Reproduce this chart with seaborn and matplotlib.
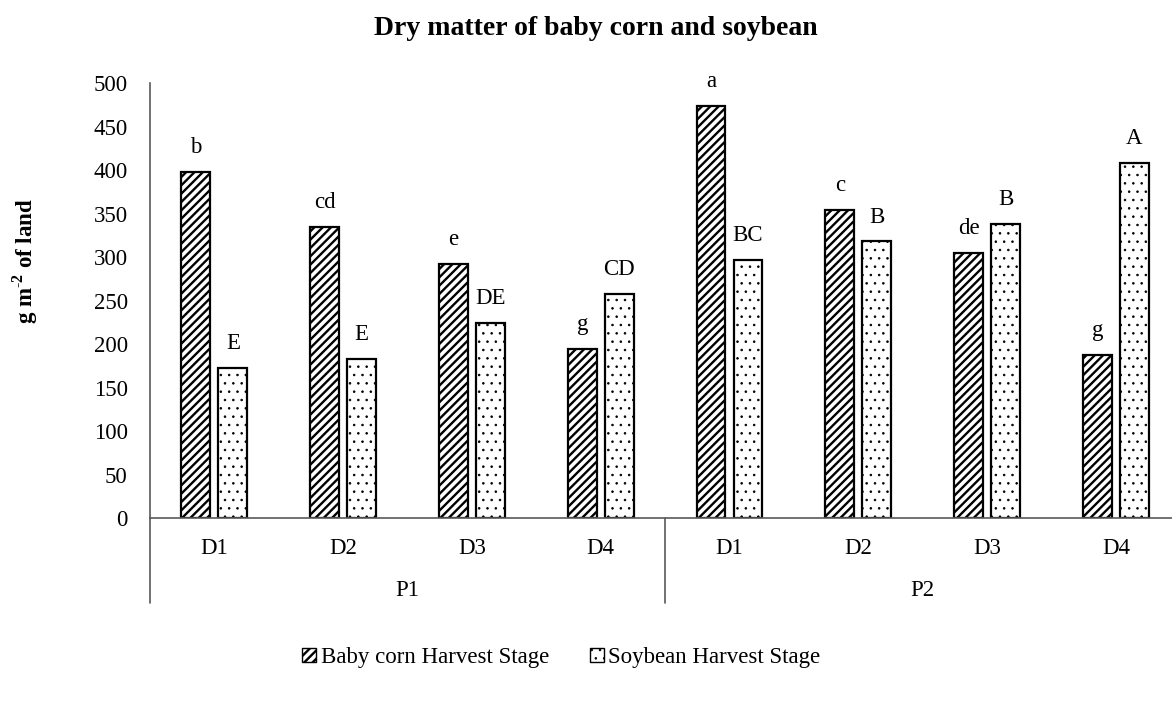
import numpy as np
import pandas as pd
import matplotlib
matplotlib.use('Agg')
import matplotlib.pyplot as plt
import matplotlib.patches as mpatches
import matplotlib.transforms as mtrans
import seaborn as sns

# data
levels = ['D1', 'D2', 'D3', 'D4']
groups = ['P1', 'P2']
corn = [398, 335, 292, 194, 474, 354, 305, 188]
soy = [173, 183, 224, 258, 297, 318, 338, 408]
corn_letters = ['b', 'cd', 'e', 'g', 'a', 'c', 'de', 'g']
soy_letters = ['E', 'E', 'DE', 'CD', 'BC', 'B', 'B', 'A']
series = ['Baby corn Harvest Stage', 'Soybean Harvest Stage']

cats = [g + '-' + d for g in groups for d in levels]
df = pd.DataFrame({
    'cat': cats * 2,
    'value': corn + soy,
    'series': [series[0]] * 8 + [series[1]] * 8,
})

sns.set_style('white')
plt.rcParams['font.family'] = ['Liberation Serif', 'DejaVu Serif']
plt.rcParams['text.color'] = 'black'
plt.rcParams['ytick.color'] = 'black'
plt.rcParams['axes.labelcolor'] = 'black'
plt.rcParams['mathtext.fontset'] = 'custom'
plt.rcParams['mathtext.rm'] = 'Liberation Serif'
plt.rcParams['mathtext.bf'] = 'Liberation Serif:bold'
plt.rcParams['hatch.linewidth'] = 1.7

fs = 16.5

fig = plt.figure(figsize=(11.72, 7.04), dpi=100)
ax = fig.add_axes([0.128, 0.264, 1.007 - 0.128, 0.618])

sns.barplot(data=df, x='cat', y='value', hue='series', order=cats,
            palette=['white', 'white'], edgecolor='black', linewidth=1.6,
            width=0.575, gap=0.22, legend=False, ax=ax)

hatches = ['////', '..']
hatch_lw = [1.7, 0.6]
n = len(cats)
for i, bar in enumerate(ax.patches[:2 * n]):
    bar.set_hatch(hatches[i // n])
    if hasattr(bar, 'set_hatch_linewidth'):
        bar.set_hatch_linewidth(hatch_lw[i // n])

# significance letters
letters = corn_letters + soy_letters
for bar, lab in zip(ax.patches[:2 * n], letters):
    ax.annotate(lab, (bar.get_x() + bar.get_width() / 2, bar.get_height()),
                xytext=(0, 10), textcoords='offset points',
                ha='center', va='bottom', fontsize=fs)

ax.set_ylim(0, 500)
ax.set_xlim(-0.5, n - 0.5)
ax.set_yticks(np.arange(0, 501, 50))
ax.tick_params(axis='y', labelsize=fs, length=0, pad=16)
ax.set_xticks([])
ax.set_xlabel('')
ax.set_ylabel(r'g m$^{\text{-}\mathbf{2}}$ of land', fontsize=fs, fontweight='bold')
ax.yaxis.set_label_coords(-0.107, 0.59)
for s in ['top', 'right']:
    ax.spines[s].set_visible(False)
for s in ['left', 'bottom']:
    ax.spines[s].set_color('#595959')
    ax.spines[s].set_linewidth(1.2)

# two-level category axis
trans = mtrans.blended_transform_factory(ax.transData, ax.transAxes)
for i, c in enumerate(cats):
    ax.text(i, -0.069, c.split('-')[1], transform=trans, ha='center', va='center', fontsize=fs)
for j, g in enumerate(groups):
    ax.text(j * 4 + 1.5, -0.166, g, transform=trans, ha='center', va='center', fontsize=fs)
for xb in [-0.5, 3.5, 7.5]:
    ax.plot([xb, xb], [0, -0.195], transform=trans, color='#595959', lw=1.2, clip_on=False)

fig.suptitle('Dry matter of baby corn and soybean', x=0.5085, y=0.96,
             fontsize=20, fontweight='bold', va='center')

handles = []
for h, s, lw in zip(hatches, series, hatch_lw):
    p = mpatches.Patch(facecolor='white', edgecolor='black', hatch=h, label=s)
    if hasattr(p, 'set_hatch_linewidth'):
        p.set_hatch_linewidth(lw)
    handles.append(p)
leg = fig.legend(handles=handles, loc='center', bbox_to_anchor=(0.479, 0.066), ncol=2,
                 frameon=False, fontsize=fs, handlelength=0.6, handleheight=0.6,
                 handletextpad=0.2, columnspacing=1.8)
for p, lw in zip(leg.get_patches(), hatch_lw):
    if hasattr(p, 'set_hatch_linewidth'):
        p.set_hatch_linewidth(lw)

fig.savefig('out.png', dpi=100)
